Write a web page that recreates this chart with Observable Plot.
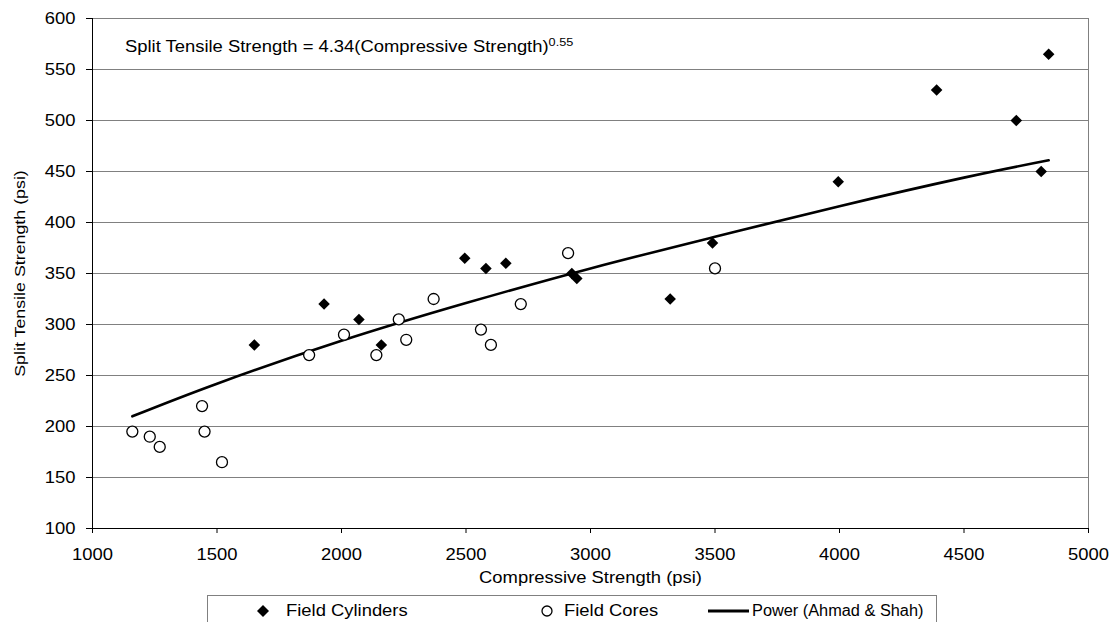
<!DOCTYPE html>
<html>
<head>
<meta charset="utf-8">
<script src="https://cdn.jsdelivr.net/npm/d3@7"></script>
<script src="https://cdn.jsdelivr.net/npm/@observablehq/plot@0.6"></script>
<style>
  body { margin: 0; background: #fff; font-family: "Liberation Sans", Arial, sans-serif; }
  #wrap { position: relative; width: 1115px; height: 622px; overflow: hidden; }
  .st { display: inline-block; transform: scaleX(1.15); transform-origin: left center; white-space: nowrap; }
  #eq { position: absolute; left: 125px; top: 39px; font-size: 16px; line-height: 16px; color: #000; }
  #eq sup { font-size: 11px; vertical-align: 6px; line-height: 0; }
  #legend { position: absolute; left: 207px; top: 595px; width: 730px; height: 40px; border: 1px solid #808080; box-sizing: border-box; background: #fff; }
  .li { position: absolute; top: 5px; font-size: 16px; line-height: 20px; height: 20px; }
  .li svg { position: absolute; top: 0; }
</style>
</head>
<body>
<div id="wrap">
  <div id="chart"></div>
  <div id="eq"><span class="st">Split Tensile Strength = 4.34(Compressive Strength)<sup>0.55</sup></span></div>
  <div id="legend">
    <div class="li" style="left:48px"><svg width="14" height="20"><path d="M7,4 L13,10 L7,16 L1,10 Z" fill="#000"/></svg><span class="st" style="margin-left:30px">Field Cylinders</span></div>
    <div class="li" style="left:332px"><svg width="14" height="20"><circle cx="7" cy="10" r="5" fill="#fff" stroke="#000" stroke-width="1.3"/></svg><span class="st" style="margin-left:24px">Field Cores</span></div>
    <div class="li" style="left:499px"><svg width="44" height="20"><line x1="1" y1="10" x2="42" y2="10" stroke="#000" stroke-width="3"/></svg><span class="st" style="margin-left:45px; transform: scaleX(1.02)">Power (Ahmad &amp; Shah)</span></div>
  </div>
</div>
<script>
// Field Cylinders (filled diamonds)
const cylX = [1650, 1930, 2070, 2160, 2495, 2580, 2660, 2925, 2945, 3320, 3490, 3995, 4390, 4710, 4810, 4840];
const cylY = [280, 320, 305, 280, 365, 355, 360, 350, 345, 325, 380, 440, 530, 500, 450, 565];
// Field Cores (open circles)
const coreX = [1160, 1230, 1270, 1440, 1450, 1520, 1870, 2010, 2140, 2230, 2260, 2370, 2560, 2600, 2720, 2910, 3500];
const coreY = [195, 190, 180, 220, 195, 165, 270, 290, 270, 305, 285, 325, 295, 280, 320, 370, 355];
// Power trend line (Ahmad & Shah)
const fitX = [1160, 1500, 2000, 2500, 3000, 3500, 4000, 4500, 4840];
const fitY = [210, 242, 284, 321, 355, 386, 416, 444, 461];
// Axis ticks
const xTicks = [1000, 1500, 2000, 2500, 3000, 3500, 4000, 4500, 5000];
const yTicks = [100, 150, 200, 250, 300, 350, 400, 450, 500, 550, 600];
const xTitle = "Compressive Strength (psi)";
const yTitle = "Split Tensile Strength (psi)";

const cyl = cylX.map((x, i) => ({x, y: cylY[i]}));
const core = coreX.map((x, i) => ({x, y: coreY[i]}));
const fit = fitX.map((x, i) => ({x, y: fitY[i]}));

const plot = Plot.plot({
  width: 1115,
  height: 590,
  marginLeft: 92,
  marginRight: 27,
  marginTop: 18,
  marginBottom: 62,
  style: {fontFamily: "'Liberation Sans', Arial, sans-serif", fontSize: "16px", color: "#000", background: "#fff"},
  x: {domain: [1000, 5000], ticks: xTicks},
  y: {domain: [100, 600], ticks: yTicks},
  marks: [
    Plot.gridY(yTicks, {stroke: "#808080", strokeOpacity: 1, strokeWidth: 1}),
    Plot.ruleX([5000], {stroke: "#808080", strokeWidth: 1}),
    Plot.ruleX([1000], {stroke: "#000", strokeWidth: 1}),
    Plot.ruleY([100], {stroke: "#000", strokeWidth: 1}),
    Plot.axisX(xTicks, {tickSize: 5, tickPadding: 15, label: null, fontSize: 16, tickFormat: d3.format("d")}),
    Plot.axisY(yTicks, {tickSize: 6, tickPadding: 11, label: null, fontSize: 16, tickFormat: d3.format("d")}),
    Plot.text([xTitle], {frameAnchor: "bottom", textAnchor: "middle", dy: 49, lineAnchor: "middle", fontSize: 16, fill: "#000"}),
    Plot.text([yTitle], {frameAnchor: "left", textAnchor: "middle", dx: -72, rotate: -90, lineAnchor: "middle", fontSize: 15.5, fill: "#000"}),
    Plot.line(fit, {x: "x", y: "y", stroke: "#000", strokeWidth: 2.6, curve: "natural"}),
    Plot.dot(core, {x: "x", y: "y", r: 5.5, fill: "#fff", stroke: "#000", strokeWidth: 1.3}),
    Plot.dot(cyl, {x: "x", y: "y", r: 5.2, symbol: "diamond2", fill: "#000", stroke: "none"})
  ]
});
document.getElementById("chart").appendChild(plot);

// Stretch text along its own direction to mimic the reference's wide Arial rendering
const S = 1.15;
plot.querySelectorAll("text").forEach(t => {
  const b = t.getBBox();
  const tr = t.getAttribute("transform") || "";
  const anchor = getComputedStyle(t).textAnchor;
  const cx = anchor === "end" ? b.x + b.width : anchor === "start" ? b.x : b.x + b.width / 2;
  t.setAttribute("transform", `${tr} translate(${cx},0) scale(${S},1) translate(${-cx},0)`);
});
</script>
</body>
</html>
